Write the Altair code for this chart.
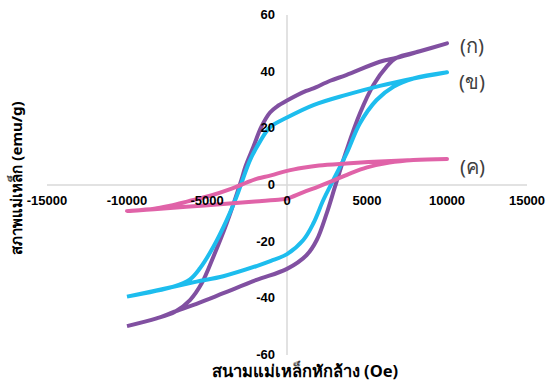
import altair as alt
import pandas as pd

# Hysteresis loops: applied field H (Oe) vs magnetisation M (emu/g).
# Each loop runs from +10000 Oe down the upper branch to -10000 Oe and back up the lower branch.
a_h = [10000, 8300, 6850, 5800, 3700, 2700, 1650, 1200, 0, -650, -1060, -1600, -2100, -2600, -2850,
       -3770, -4600, -5330, -6060, -7000, -8150, -10000,
       -8150, -7000, -5500, -3980, -1900, 0, 1230, 1860, 2480, 3000, 3730, 4560, 5400, 6230, 6850,
       8300, 10000]
a_m = [50.0, 47.2, 44.9, 43.5, 38.8, 36.8, 34.1, 33.2, 29.8, 27.6, 25.6, 20.6, 13.5, 6.5, 1.8,
       -13.5, -25.3, -34.7, -40.6, -44.7, -47.1, -49.8,
       -47.1, -44.6, -41.6, -38.2, -33.5, -29.6, -24.7, -19.4, -10.0, -0.6, 12.4, 25.3, 35.3, 41.8, 44.9,
       47.2, 50.0]

b_h = [10000, 7900, 5800, 3700, 1650, 0, -1060, -1690, -2310, -2750, -3150, -3770, -4600, -5440,
       -6060, -7100, -10000,
       -7100, -5650, -3980, -1900, -1000, 0, 1020, 1650, 2270, 2790, 3730, 4560, 5600, 6650,
       7900, 10000]
b_m = [39.8, 37.6, 35.0, 31.8, 28.2, 23.8, 20.4, 15.3, 8.8, 2.2, -4.1, -12.4, -21.8, -29.4,
       -33.3, -35.9, -39.4,
       -35.9, -34.1, -32.2, -28.6, -26.8, -24.4, -19.4, -13.5, -5.3, 0.6, 11.2, 21.8, 30.0, 34.7,
       37.6, 39.8]

c_h = [10000, 7900, 5800, 3700, 2000, 1000, 0, -1000, -2000, -2500, -3500, -4800, -6200, -7300,
       -8300, -10000,
       -8300, -6300, -4000, -2000, -400, 0, 1000, 2000, 3000, 4000, 5000, 6400, 7900, 10000]
c_m = [9.2, 8.8, 8.3, 7.6, 6.9, 6.1, 5.0, 3.4, 2.0, 0.9, -1.4, -3.8, -5.8, -7.3,
       -8.4, -9.2,
       -8.6, -7.7, -6.7, -5.8, -5.1, -4.8, -2.6, -0.5, 1.8, 4.2, 6.2, 7.9, 8.8, 9.2]

series_names = ["(ก)", "(ข)", "(ค)"]
series_colors = ["#8150A1", "#1DBDEE", "#E063A8"]
label_h = [11560, 11560, 11600]
label_m = [48.8, 35.9, 5.9]

x_ticks = [-15000, -10000, -5000, 0, 5000, 10000, 15000]
y_ticks = [-60, -40, -20, 0, 20, 40, 60]

x_title = "สนามแม่เหล็กหักล้าง (Oe)"
y_title = "สภาพแม่เหล็ก (emu/g)"

rows = []
for name, hs, ms in zip(series_names, [a_h, b_h, c_h], [a_m, b_m, c_m]):
    for i, (h, m) in enumerate(zip(hs, ms)):
        rows.append({"series": name, "i": i, "H": h, "M": m})
loops = pd.DataFrame(rows)

labels = pd.DataFrame({"series": series_names, "H": label_h, "M": label_m})
xt = pd.DataFrame({"v": x_ticks, "t": [str(v) for v in x_ticks]})
yt = pd.DataFrame({"v": y_ticks, "t": [str(v) for v in y_ticks]})

xs = alt.Scale(domain=[-15000, 15000], nice=False, zero=False)
ys = alt.Scale(domain=[-60, 60], nice=False, zero=False)
color = alt.Color("series:N", scale=alt.Scale(domain=series_names, range=series_colors), legend=None)

axis_color = "#D9D9D9"
tick_font = "Liberation Sans"

h_axis = alt.Chart(pd.DataFrame({"a": [-15000], "b": [15000], "y": [0]})).mark_rule(
    color=axis_color, strokeWidth=1.5
).encode(x=alt.X("a:Q", scale=xs, axis=None), x2="b", y=alt.Y("y:Q", scale=ys, axis=None))

v_axis = alt.Chart(pd.DataFrame({"x": [0], "a": [-60], "b": [60]})).mark_rule(
    color=axis_color, strokeWidth=1.5
).encode(x=alt.X("x:Q", scale=xs, axis=None), y=alt.Y("a:Q", scale=ys, axis=None), y2="b")

lines = alt.Chart(loops).mark_line(strokeWidth=4, interpolate="catmull-rom", strokeCap="round").encode(
    x=alt.X("H:Q", scale=xs, axis=None),
    y=alt.Y("M:Q", scale=ys, axis=None),
    color=color,
    detail="series:N",
    order="i:Q",
)

x_labels = alt.Chart(xt).mark_text(
    font=tick_font, fontSize=13, fontWeight="bold", color="#000000", baseline="middle", dy=16
).encode(x=alt.X("v:Q", scale=xs, axis=None), y=alt.value(170), text="t:N")

y_labels = alt.Chart(yt).mark_text(
    font=tick_font, fontSize=13, fontWeight="bold", color="#000000", align="right", baseline="middle"
).encode(x=alt.value(228), y=alt.Y("v:Q", scale=ys, axis=None), text="t:N")

series_labels = alt.Chart(labels).mark_text(
    font="Noto Sans", fontSize=20, color="#404040", baseline="middle"
).encode(x=alt.X("H:Q", scale=xs, axis=None), y=alt.Y("M:Q", scale=ys, axis=None), text="series:N")

x_title_mark = alt.Chart(pd.DataFrame({"t": [x_title]})).mark_text(
    font="Noto Sans", fontSize=16.5, fontWeight="bold", color="#000000", baseline="middle"
).encode(x=alt.value(258), y=alt.value(357), text="t:N")

y_title_mark = alt.Chart(pd.DataFrame({"t": [y_title]})).mark_text(
    font="Noto Sans", fontSize=15, fontWeight="bold", color="#000000", baseline="middle", angle=270
).encode(x=alt.value(-30), y=alt.value(163), text="t:N")

chart = alt.layer(
    h_axis, v_axis, lines, x_labels, y_labels, series_labels, x_title_mark, y_title_mark
).properties(
    width=480,
    height=340,
    padding={"left": 47, "top": 15, "right": 23, "bottom": 27},
    autosize=alt.AutoSizeParams(type="none"),
    background="#FFFFFF",
).configure_view(stroke=None)

chart.save("out.html", embed_options={"renderer": "svg", "actions": False})
